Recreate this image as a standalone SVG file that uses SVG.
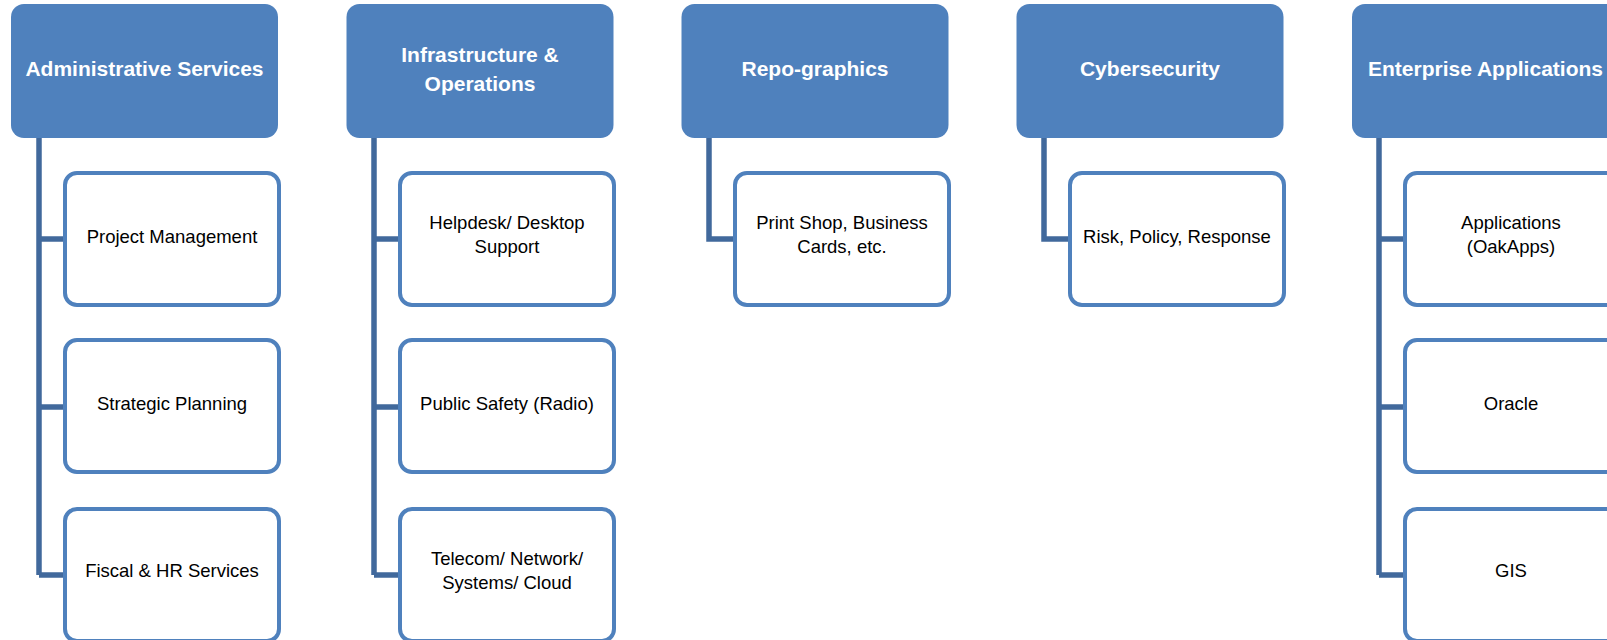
<svg xmlns="http://www.w3.org/2000/svg" width="1607" height="640" viewBox="0 0 1607 640">
  <style>
    .head { fill: #4F81BD; }
    .head-text { font-family: "Liberation Sans", Arial, sans-serif; font-weight: bold; font-size: 21px; fill: #FFFFFF; text-anchor: middle; }
    .item { fill: #FFFFFF; stroke: #4F81BD; stroke-width: 4; }
    .item-text { font-family: "Liberation Sans", Arial, sans-serif; font-size: 18.5px; fill: #000000; text-anchor: middle; }
    .link { fill: none; stroke: #41699C; stroke-width: 5.5; stroke-linejoin: miter; }
  </style>
  <rect width="1607" height="640" fill="#FFFFFF"/>

  <!-- tree lines: trunk from each header down to its children -->
  <g id="connectors">
    <path class="link" d="M39,138 V575 M39,239 H65 M39,407 H65 M39,575 H65"/>
    <path class="link" d="M374,138 V575 M374,239 H400 M374,407 H400 M374,575 H400"/>
    <path class="link" d="M709,138 V239 H735"/>
    <path class="link" d="M1044,138 V239 H1070"/>
    <path class="link" d="M1379,138 V575 M1379,239 H1405 M1379,407 H1405 M1379,575 H1405"/>
  </g>

  <!-- column 1 -->
  <g id="administrative-services">
    <rect class="head" x="11" y="4" width="267" height="134" rx="13"/>
    <text class="head-text" x="144.5" y="76">Administrative Services</text>
  </g>
  <g id="project-management">
    <rect class="item" x="65" y="173" width="214" height="132" rx="12"/>
    <text class="item-text" x="172" y="243">Project Management</text>
  </g>
  <g id="strategic-planning">
    <rect class="item" x="65" y="340" width="214" height="132" rx="12"/>
    <text class="item-text" x="172" y="410">Strategic Planning</text>
  </g>
  <g id="fiscal-hr">
    <rect class="item" x="65" y="509" width="214" height="132" rx="12"/>
    <text class="item-text" x="172" y="577">Fiscal &amp; HR Services</text>
  </g>

  <!-- column 2 -->
  <g id="infrastructure-operations">
    <rect class="head" x="346.5" y="4" width="267" height="134" rx="13"/>
    <text class="head-text" x="480" y="62">Infrastructure &amp;</text>
    <text class="head-text" x="480" y="91">Operations</text>
  </g>
  <g id="helpdesk">
    <rect class="item" x="400" y="173" width="214" height="132" rx="12"/>
    <text class="item-text" x="507" y="229">Helpdesk/ Desktop</text>
    <text class="item-text" x="507" y="253">Support</text>
  </g>
  <g id="public-safety">
    <rect class="item" x="400" y="340" width="214" height="132" rx="12"/>
    <text class="item-text" x="507" y="410">Public Safety (Radio)</text>
  </g>
  <g id="telecom">
    <rect class="item" x="400" y="509" width="214" height="132" rx="12"/>
    <text class="item-text" x="507" y="565">Telecom/ Network/</text>
    <text class="item-text" x="507" y="589">Systems/ Cloud</text>
  </g>

  <!-- column 3 -->
  <g id="repo-graphics">
    <rect class="head" x="681.5" y="4" width="267" height="134" rx="13"/>
    <text class="head-text" x="815" y="76">Repo-graphics</text>
  </g>
  <g id="print-shop">
    <rect class="item" x="735" y="173" width="214" height="132" rx="12"/>
    <text class="item-text" x="842" y="229">Print Shop, Business</text>
    <text class="item-text" x="842" y="253">Cards, etc.</text>
  </g>

  <!-- column 4 -->
  <g id="cybersecurity">
    <rect class="head" x="1016.5" y="4" width="267" height="134" rx="13"/>
    <text class="head-text" x="1150" y="76">Cybersecurity</text>
  </g>
  <g id="risk-policy">
    <rect class="item" x="1070" y="173" width="214" height="132" rx="12"/>
    <text class="item-text" x="1177" y="243">Risk, Policy, Response</text>
  </g>

  <!-- column 5 -->
  <g id="enterprise-applications">
    <rect class="head" x="1352" y="4" width="267" height="134" rx="13"/>
    <text class="head-text" x="1485.5" y="76">Enterprise Applications</text>
  </g>
  <g id="oakapps">
    <rect class="item" x="1405" y="173" width="214" height="132" rx="12"/>
    <text class="item-text" x="1511" y="229">Applications</text>
    <text class="item-text" x="1511" y="253">(OakApps)</text>
  </g>
  <g id="oracle">
    <rect class="item" x="1405" y="340" width="214" height="132" rx="12"/>
    <text class="item-text" x="1511" y="410">Oracle</text>
  </g>
  <g id="gis">
    <rect class="item" x="1405" y="509" width="214" height="132" rx="12"/>
    <text class="item-text" x="1511" y="577">GIS</text>
  </g>
</svg>
